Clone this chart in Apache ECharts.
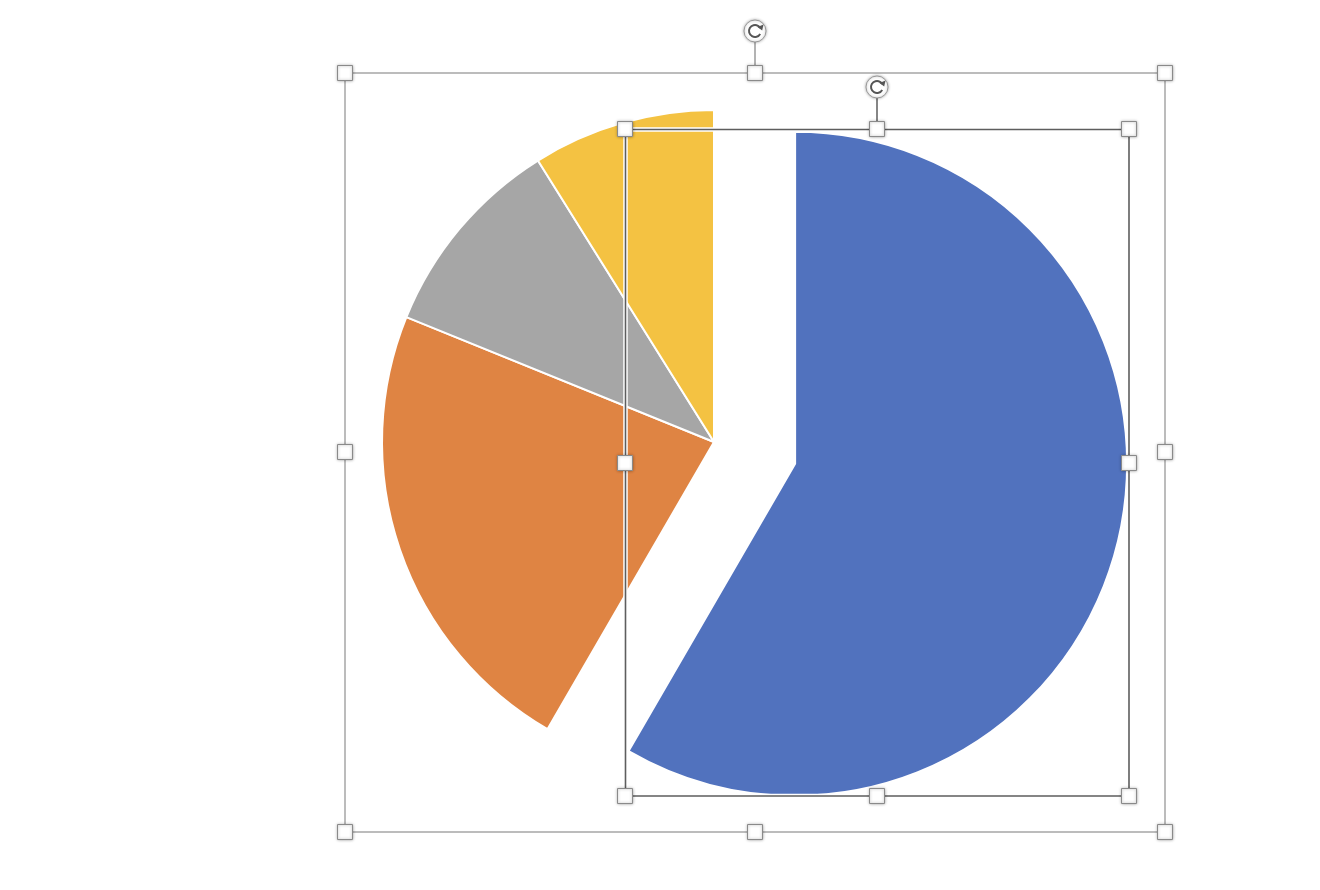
<!DOCTYPE html>
<html>
<head>
<meta charset="utf-8">
<script src="https://cdn.jsdelivr.net/npm/echarts@6/dist/echarts.min.js"></script>
<style>
html,body{margin:0;padding:0;background:#fff;}
#main{width:1320px;height:890px;}
</style>
</head>
<body>
<div id="main"></div>
<script>
var categories = ['1st Qtr', '2nd Qtr', '3rd Qtr', '4th Qtr'];
var salesValues = [8.2, 3.2, 1.4, 1.25];
var sliceColors = ['#5172BE', '#DF8443', '#A6A6A6', '#F4C242'];
var explodedIndex = 0;

var chart = echarts.init(document.getElementById('main'), null, {renderer: 'canvas'});

function handle(x, y) {
  return {
    type: 'rect', z: 110,
    shape: {x: x - 7.5, y: y - 7.5, width: 15, height: 15},
    style: {fill: '#ffffff', stroke: '#8a8a8a', lineWidth: 1, shadowBlur: 3, shadowColor: 'rgba(0,0,0,0.35)'}
  };
}
function rotHandle(x, y, yLineEnd, lineColor) {
  return [
    {type: 'line', z: 105, shape: {x1: x, y1: y + 11, x2: x, y2: yLineEnd}, style: {stroke: lineColor, lineWidth: 1.5}},
    {type: 'circle', z: 110, shape: {cx: x, cy: y, r: 11}, style: {fill: '#fff', stroke: '#9a9a9a', lineWidth: 1, shadowBlur: 3, shadowColor: 'rgba(0,0,0,0.3)'}},
    {type: 'arc', z: 111, shape: {cx: x, cy: y, r: 6, startAngle: Math.PI / 6, endAngle: Math.PI * 11 / 6, clockwise: true}, style: {fill: null, stroke: '#555', lineWidth: 2}},
    {type: 'polygon', z: 111, shape: {points: [[x + 2.5, y - 4], [x + 8.5, y - 6.5], [x + 7.2, y - 0.5]]}, style: {fill: '#555'}}
  ];
}

var graphics = [];
graphics.push({type: 'rect', z: 100, shape: {x: 345, y: 73, width: 820, height: 759}, style: {fill: null, stroke: '#a6a6a6', lineWidth: 1.5}});
graphics.push({type: 'rect', z: 100, shape: {x: 625.5, y: 129.5, width: 503.5, height: 666.5}, style: {fill: null, stroke: '#ffffff', lineWidth: 4.5}});
graphics.push({type: 'rect', z: 101, shape: {x: 625.5, y: 129.5, width: 503.5, height: 666.5}, style: {fill: null, stroke: '#5e5e5e', lineWidth: 1.6}});
graphics = graphics.concat(rotHandle(755, 31, 66, '#9a9a9a'));
graphics = graphics.concat(rotHandle(877, 87, 122, '#5e5e5e'));
[[345,73],[755,73],[1165,73],[345,452],[1165,452],[345,832],[755,832],[1165,832],
 [625,129],[877,129],[1129,129],[625,463],[1129,463],[625,796],[877,796],[1129,796]].forEach(function(p){
  graphics.push(handle(p[0], p[1]));
});

var pieData = categories.map(function(c, i){
  return {name: c, value: salesValues[i], selected: i === explodedIndex, itemStyle: {color: sliceColors[i]}};
});

chart.setOption({
  animation: false,
  backgroundColor: '#ffffff',
  series: [{
    type: 'pie',
    center: [714, 442],
    radius: 332,
    startAngle: 90,
    clockwise: true,
    selectedMode: 'single',
    selectedOffset: 84,
    avoidLabelOverlap: false,
    label: {show: false},
    labelLine: {show: false},
    emphasis: {disabled: true},
    itemStyle: {borderColor: '#ffffff', borderWidth: 2},
    data: pieData
  }],
  graphic: graphics
});
</script>
</body>
</html>
